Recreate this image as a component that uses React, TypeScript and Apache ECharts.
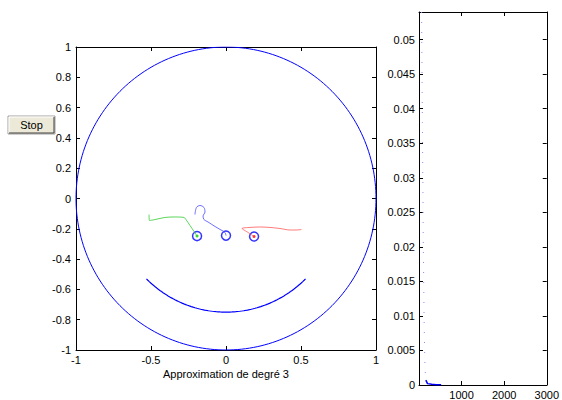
import React, { useEffect, useRef } from "react";
import * as echarts from "echarts";

// Scene drawn in the left axes: unit circle, mouth arc and three eye trails
const outerRadius = 1;
const mouthRadius = 0.75;
const mouthStartDeg = 225;
const mouthEndDeg = 315;

const greenTrailX = [-0.513, -0.51, -0.473, -0.407, -0.34, -0.28, -0.267, -0.24, -0.213, -0.193];
const greenTrailY = [-0.106, -0.145, -0.139, -0.125, -0.122, -0.125, -0.139, -0.178, -0.218, -0.248];

const blueTrailX = [-0.207, -0.197, -0.173, -0.147, -0.14, -0.153, -0.147, -0.12, -0.073, -0.033, -0.007, 0];
const blueTrailY = [-0.106, -0.059, -0.046, -0.059, -0.089, -0.116, -0.139, -0.155, -0.185, -0.208, -0.224, -0.245];

const redTrailX = [0.187, 0.147, 0.107, 0.16, 0.227, 0.293, 0.36, 0.427, 0.467, 0.503];
const redTrailY = [-0.251, -0.224, -0.198, -0.191, -0.188, -0.191, -0.198, -0.208, -0.208, -0.205];

const ringX = [-0.193, 0, 0.187];
const ringY = [-0.248, -0.245, -0.251];

// Error history in the right axes
const decayX = [60, 70, 80, 90, 100, 110, 120, 130, 140, 150, 160];
const decayY = [0.054, 0.046, 0.038, 0.03, 0.021, 0.015, 0.0095, 0.0055, 0.003, 0.0015, 0.0007];
const tailX = [160, 200, 300, 400, 520];
const tailY = [0.0007, 0.0002, 0.0001, 0.00005, 0.00003];

const leftXTicks = { min: -1, max: 1, interval: 0.5 };
const leftYTicks = { min: -1, max: 1, interval: 0.2 };
const rightXTicks = { min: 0, max: 3000, interval: 1000 };
const rightYTicks = { min: 0, max: 0.054, interval: 0.005 };

const titleText = "Approximation de degré 3";
const buttonText = "Stop";

const FONT = "Liberation Sans, Arial, Helvetica, sans-serif";

function zip(xs: number[], ys: number[]) {
  return xs.map((x, i) => [x, ys[i]]);
}

function arcPoints(r: number, fromDeg: number, toDeg: number, steps: number) {
  const pts: number[][] = [];
  for (let i = 0; i <= steps; i++) {
    const a = ((fromDeg + ((toDeg - fromDeg) * i) / steps) * Math.PI) / 180;
    pts.push([r * Math.cos(a), r * Math.sin(a)]);
  }
  return pts;
}

function boxAxis(kind: "x" | "y", gridIndex: number, range: any, position: string, labels: any) {
  return {
    type: "value",
    gridIndex,
    position,
    min: range.min,
    max: range.max,
    interval: range.interval,
    axisLine: { show: true, onZero: false, lineStyle: { color: "#000", width: 1 } },
    axisTick: { show: true, inside: true, length: 4, lineStyle: { color: "#000" } },
    splitLine: { show: false },
    axisLabel: labels
      ? { show: true, color: "#000", fontFamily: FONT, fontSize: 11, ...labels }
      : { show: false },
  };
}

function leftNum(v: number) {
  const r = Math.round(v * 10) / 10;
  return r === 0 ? "0" : String(r);
}

function rightYNum(v: number) {
  const k = Math.round(v / 0.005);
  if (Math.abs(v - k * 0.005) > 1e-9) return "";
  return String(+(k * 0.005).toFixed(3));
}

export default function App() {
  const ref = useRef<HTMLDivElement>(null);

  useEffect(() => {
    if (!ref.current) return;
    const chart = echarts.init(ref.current, null, { renderer: "svg" });
    const option: any = {
      animation: false,
      backgroundColor: "#fff",
      grid: [
        { left: 76, top: 47, width: 300, height: 303 },
        { left: 419, top: 12, width: 131, height: 375 },
      ],
      xAxis: [
        boxAxis("x", 0, leftXTicks, "bottom", { margin: 4, formatter: leftNum }),
        boxAxis("x", 0, leftXTicks, "top", null),
        boxAxis("x", 1, rightXTicks, "bottom", {
          margin: 4,
          formatter: (v: number) => (v === 0 ? "" : String(v)),
        }),
        boxAxis("x", 1, rightXTicks, "top", null),
      ],
      yAxis: [
        boxAxis("y", 0, leftYTicks, "left", { margin: 5, formatter: leftNum }),
        boxAxis("y", 0, leftYTicks, "right", null),
        boxAxis("y", 1, rightYTicks, "left", { margin: 4, formatter: rightYNum, showMaxLabel: false }),
        boxAxis("y", 1, rightYTicks, "right", null),
      ],
      series: [
        {
          type: "line",
          xAxisIndex: 0,
          yAxisIndex: 0,
          data: arcPoints(outerRadius, 0, 360, 240),
          showSymbol: false,
          lineStyle: { color: "#0000ff", width: 1 },
          silent: true,
        },
        {
          type: "line",
          xAxisIndex: 0,
          yAxisIndex: 0,
          data: arcPoints(mouthRadius, mouthStartDeg, mouthEndDeg, 90),
          showSymbol: false,
          lineStyle: { color: "#0000ff", width: 1.2 },
          silent: true,
        },
        {
          type: "line",
          xAxisIndex: 0,
          yAxisIndex: 0,
          data: zip(greenTrailX, greenTrailY),
          showSymbol: false,
          smooth: 0.3,
          lineStyle: { color: "#33cc33", width: 1, opacity: 0.8 },
          silent: true,
        },
        {
          type: "line",
          xAxisIndex: 0,
          yAxisIndex: 0,
          data: zip(blueTrailX, blueTrailY),
          showSymbol: false,
          smooth: 0.3,
          lineStyle: { color: "#5555ff", width: 1, opacity: 0.85 },
          silent: true,
        },
        {
          type: "line",
          xAxisIndex: 0,
          yAxisIndex: 0,
          data: zip(redTrailX, redTrailY),
          showSymbol: false,
          smooth: 0.3,
          lineStyle: { color: "#ff4444", width: 1, opacity: 0.7 },
          silent: true,
        },
        {
          type: "scatter",
          xAxisIndex: 0,
          yAxisIndex: 0,
          data: zip(ringX, ringY),
          symbol: "circle",
          symbolSize: 9,
          itemStyle: { color: "rgba(0,0,0,0)", borderColor: "#0000ff", borderWidth: 1.5 },
          silent: true,
        },
        {
          type: "scatter",
          xAxisIndex: 0,
          yAxisIndex: 0,
          data: [[greenTrailX[greenTrailX.length - 1], greenTrailY[greenTrailY.length - 1]]],
          symbolSize: 3,
          itemStyle: { color: "#00cc00" },
          silent: true,
        },
        {
          type: "scatter",
          xAxisIndex: 0,
          yAxisIndex: 0,
          data: [[redTrailX[0], redTrailY[0]]],
          symbolSize: 3,
          itemStyle: { color: "#ff0000" },
          silent: true,
        },
        {
          type: "line",
          xAxisIndex: 2,
          yAxisIndex: 2,
          data: zip(decayX, decayY),
          showSymbol: false,
          lineStyle: { color: "#8888ff", width: 1, type: [1, 9] },
          silent: true,
        },
        {
          type: "line",
          xAxisIndex: 2,
          yAxisIndex: 2,
          data: zip(tailX, tailY),
          showSymbol: false,
          lineStyle: { color: "#0000ff", width: 1.5 },
          silent: true,
        },
      ],
      graphic: [
        {
          type: "text",
          x: 226,
          y: 374,
          style: {
            text: titleText,
            fill: "#000",
            font: `11px ${FONT}`,
            textAlign: "center",
            textVerticalAlign: "middle",
          },
        },
        {
          type: "group",
          x: 8,
          y: 116,
          children: [
            {
              type: "rect",
              shape: { x: 0, y: 0, width: 47, height: 18 },
              style: { fill: "#ece9d8", stroke: "#a0a0a0", lineWidth: 1 },
            },
            {
              type: "polyline",
              shape: { points: [[1, 17], [1, 1], [46, 1]] },
              style: { stroke: "#ffffff", lineWidth: 1, fill: null },
            },
            {
              type: "polyline",
              shape: { points: [[1, 17], [46, 17], [46, 1]] },
              style: { stroke: "#404040", lineWidth: 1, fill: null },
            },
            {
              type: "text",
              x: 23.5,
              y: 9,
              style: {
                text: buttonText,
                fill: "#000",
                font: `11px ${FONT}`,
                textAlign: "center",
                textVerticalAlign: "middle",
              },
            },
          ],
        },
      ],
    };
    chart.setOption(option);
    return () => chart.dispose();
  }, []);

  return (
    <div
      ref={ref}
      style={{ position: "fixed", left: 0, top: 0, width: 562, height: 400, background: "#fff" }}
    />
  );
}
